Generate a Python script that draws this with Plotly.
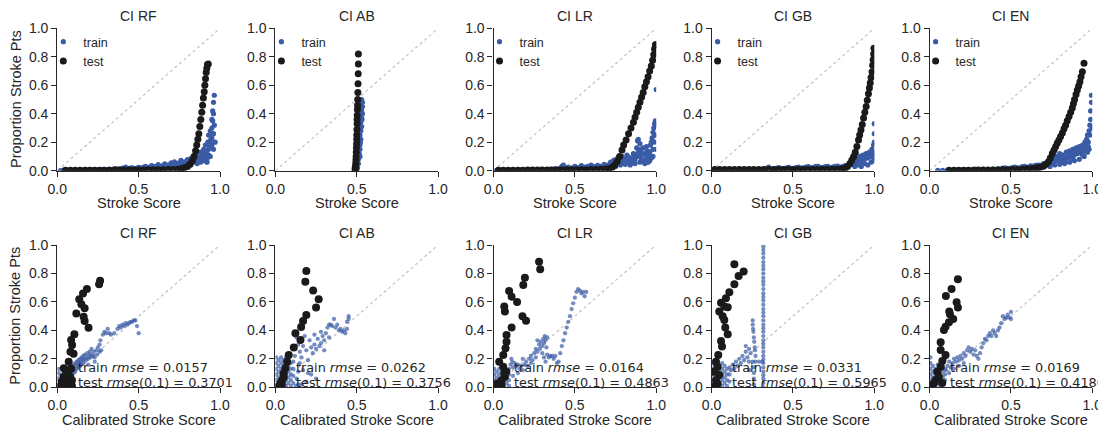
import plotly.graph_objects as go

W, H = 1106, 430

MODELS = ["RF", "AB", "LR", "GB", "EN"]
TRAIN_RMSE = ["0.0157", "0.0262", "0.0164", "0.0331", "0.0169"]
TEST_RMSE = ["0.3701", "0.3756", "0.4863", "0.5965", "0.4180"]
X_TICKS = [0.0, 0.5, 1.0]
Y_TICKS = [0.0, 0.2, 0.4, 0.6, 0.8, 1.0]

# ---------------- top row: raw score ----------------
RF_TOP_TRAIN = [
    (0.02, 0.000), (0.04, 0.002), (0.06, 0.003), (0.08, 0.002), (0.10, 0.004), (0.12, 0.003),
    (0.14, 0.005), (0.16, 0.004), (0.18, 0.006), (0.20, 0.005), (0.22, 0.007), (0.24, 0.006),
    (0.26, 0.008), (0.28, 0.010), (0.30, 0.007), (0.32, 0.012), (0.34, 0.009), (0.36, 0.014),
    (0.38, 0.011), (0.40, 0.018), (0.42, 0.026), (0.44, 0.016), (0.46, 0.020), (0.48, 0.014),
    (0.50, 0.024), (0.52, 0.018), (0.54, 0.030), (0.56, 0.022), (0.58, 0.036), (0.60, 0.028),
    (0.62, 0.042), (0.64, 0.032), (0.66, 0.048), (0.68, 0.040), (0.70, 0.055), (0.72, 0.062),
    (0.74, 0.050), (0.76, 0.072), (0.78, 0.060), (0.80, 0.078), (0.81, 0.066), (0.82, 0.085),
    (0.83, 0.072), (0.84, 0.095), (0.85, 0.080), (0.86, 0.110), (0.87, 0.090), (0.88, 0.130),
    (0.89, 0.100), (0.90, 0.150), (0.905, 0.120), (0.91, 0.180), (0.92, 0.140), (0.925, 0.200),
    (0.93, 0.250), (0.935, 0.170), (0.94, 0.280), (0.945, 0.220), (0.95, 0.300), (0.95, 0.360),
    (0.955, 0.420), (0.96, 0.480), (0.965, 0.530), (0.96, 0.260), (0.965, 0.320),
    (0.42, 0.008), (0.46, 0.010), (0.50, 0.012), (0.54, 0.014), (0.58, 0.016), (0.62, 0.018),
    (0.66, 0.020), (0.70, 0.025), (0.74, 0.030), (0.78, 0.035), (0.82, 0.040), (0.86, 0.050),
    (0.88, 0.060), (0.90, 0.070), (0.92, 0.080), (0.94, 0.100), (0.96, 0.150), (0.97, 0.200),
    (0.60, 0.010), (0.64, 0.015), (0.68, 0.022), (0.72, 0.035), (0.76, 0.045), (0.80, 0.050),
    (0.84, 0.060), (0.87, 0.065), (0.89, 0.080), (0.91, 0.090), (0.93, 0.110), (0.95, 0.180),
    (0.92, 0.060), (0.41, 0.015), (0.43, 0.012), (0.45, 0.018), (0.47, 0.016), (0.49, 0.018),
    (0.51, 0.020), (0.53, 0.022), (0.55, 0.025), (0.57, 0.026), (0.59, 0.025), (0.61, 0.030),
    (0.63, 0.028), (0.65, 0.034), (0.67, 0.036), (0.69, 0.040), (0.71, 0.045), (0.73, 0.048),
    (0.75, 0.055), (0.77, 0.058), (0.79, 0.062), (0.81, 0.058), (0.83, 0.060), (0.85, 0.065),
    (0.87, 0.075), (0.89, 0.120), (0.91, 0.140), (0.93, 0.150), (0.94, 0.210), (0.95, 0.230),
    (0.955, 0.350), (0.96, 0.400),
]
RF_TOP_TEST = [
    (0.05, 0.004), (0.08, 0.004), (0.11, 0.004), (0.14, 0.004), (0.17, 0.004), (0.20, 0.004),
    (0.23, 0.004), (0.26, 0.004), (0.29, 0.004), (0.32, 0.004), (0.35, 0.005), (0.38, 0.005),
    (0.41, 0.005), (0.44, 0.005), (0.47, 0.005), (0.50, 0.005), (0.53, 0.005), (0.56, 0.006),
    (0.59, 0.006), (0.62, 0.006), (0.65, 0.007), (0.68, 0.008), (0.71, 0.009), (0.74, 0.011),
    (0.76, 0.014), (0.78, 0.020), (0.80, 0.030), (0.815, 0.045), (0.83, 0.070), (0.84, 0.100),
    (0.85, 0.140), (0.857, 0.180), (0.864, 0.220), (0.87, 0.260), (0.876, 0.310), (0.882, 0.360),
    (0.888, 0.410), (0.893, 0.460), (0.898, 0.510), (0.903, 0.555), (0.907, 0.600), (0.911, 0.645),
    (0.915, 0.690), (0.919, 0.720), (0.923, 0.745), (0.928, 0.750),
]

AB_TOP_TRAIN = [
    (0.500, 0.000), (0.505, 0.020), (0.510, 0.050), (0.510, 0.080), (0.515, 0.120), (0.520, 0.150),
    (0.520, 0.180), (0.525, 0.220), (0.520, 0.250), (0.525, 0.280), (0.530, 0.310), (0.525, 0.340),
    (0.530, 0.370), (0.535, 0.400), (0.530, 0.420), (0.535, 0.450), (0.535, 0.480), (0.530, 0.500),
    (0.520, 0.100), (0.515, 0.300), (0.528, 0.440), (0.522, 0.200), (0.532, 0.360),
]
AB_TOP_TEST = [
    (0.490, 0.000), (0.490, 0.015), (0.492, 0.030), (0.494, 0.050), (0.495, 0.075), (0.496, 0.100),
    (0.497, 0.130), (0.498, 0.160), (0.499, 0.190), (0.500, 0.220), (0.500, 0.250), (0.501, 0.290),
    (0.502, 0.330), (0.502, 0.360), (0.503, 0.390), (0.504, 0.430), (0.505, 0.460), (0.506, 0.500),
    (0.507, 0.550), (0.508, 0.610), (0.509, 0.680), (0.510, 0.750), (0.510, 0.820),
]

LR_TOP_TRAIN = [
    (0.02, 0.002), (0.05, 0.004), (0.08, 0.003), (0.11, 0.005), (0.14, 0.004), (0.17, 0.006),
    (0.20, 0.005), (0.23, 0.008), (0.26, 0.006), (0.29, 0.010), (0.32, 0.008), (0.35, 0.012),
    (0.38, 0.014), (0.40, 0.010), (0.42, 0.030), (0.43, 0.040), (0.44, 0.020), (0.46, 0.025),
    (0.48, 0.018), (0.50, 0.030), (0.52, 0.022), (0.54, 0.035), (0.56, 0.025), (0.58, 0.030),
    (0.60, 0.040), (0.62, 0.028), (0.64, 0.038), (0.66, 0.030), (0.68, 0.045), (0.70, 0.040),
    (0.72, 0.060), (0.74, 0.075), (0.76, 0.085), (0.77, 0.095), (0.78, 0.070), (0.79, 0.100),
    (0.80, 0.060), (0.81, 0.080), (0.82, 0.110), (0.83, 0.095), (0.84, 0.070), (0.85, 0.090),
    (0.86, 0.120), (0.87, 0.080), (0.88, 0.160), (0.885, 0.210), (0.89, 0.220), (0.90, 0.190),
    (0.905, 0.150), (0.91, 0.120), (0.92, 0.160), (0.93, 0.110), (0.94, 0.170), (0.945, 0.140),
    (0.95, 0.100), (0.96, 0.130), (0.965, 0.180), (0.97, 0.200), (0.975, 0.230), (0.98, 0.270),
    (0.985, 0.300), (0.99, 0.330), (0.995, 0.350), (1.0, 0.320), (1.0, 0.570),
    (0.72, 0.020), (0.75, 0.030), (0.78, 0.040), (0.81, 0.045), (0.84, 0.040), (0.87, 0.050),
    (0.90, 0.060), (0.92, 0.070), (0.94, 0.080), (0.96, 0.070), (0.98, 0.100), (1.0, 0.150),
    (0.88, 0.100), (0.91, 0.080), (0.95, 0.060), (0.99, 0.200), (0.97, 0.090), (0.93, 0.050),
    (0.41, 0.018), (0.45, 0.012), (0.49, 0.015), (0.53, 0.016), (0.57, 0.018), (0.61, 0.020),
    (0.65, 0.022), (0.69, 0.025), (0.71, 0.030), (0.73, 0.045), (0.75, 0.055), (0.77, 0.050),
    (0.79, 0.060), (0.81, 0.065), (0.83, 0.060), (0.85, 0.055), (0.86, 0.070), (0.87, 0.110),
    (0.89, 0.130), (0.90, 0.100), (0.92, 0.120), (0.94, 0.120), (0.96, 0.100), (0.98, 0.150),
    (0.99, 0.250), (1.0, 0.250),
]
LR_TOP_TEST = [
    (0.03, 0.004), (0.06, 0.004), (0.09, 0.004), (0.12, 0.004), (0.15, 0.004), (0.18, 0.004),
    (0.21, 0.005), (0.24, 0.005), (0.27, 0.005), (0.30, 0.005), (0.33, 0.005), (0.36, 0.005),
    (0.39, 0.005), (0.42, 0.006), (0.45, 0.006), (0.48, 0.006), (0.51, 0.006), (0.54, 0.007),
    (0.57, 0.007), (0.60, 0.008), (0.63, 0.008), (0.66, 0.010), (0.69, 0.012), (0.71, 0.016),
    (0.73, 0.025), (0.745, 0.040), (0.76, 0.065), (0.775, 0.100), (0.79, 0.145), (0.80, 0.180),
    (0.815, 0.215), (0.83, 0.260), (0.845, 0.300), (0.86, 0.340), (0.87, 0.375), (0.88, 0.410),
    (0.89, 0.445), (0.90, 0.480), (0.91, 0.515), (0.92, 0.550), (0.93, 0.590), (0.94, 0.625),
    (0.95, 0.660), (0.96, 0.700), (0.97, 0.735), (0.978, 0.775), (0.985, 0.815), (0.99, 0.855),
    (0.995, 0.885), (1.0, 0.885),
]

GB_TOP_TRAIN = [
    (0.02, 0.003), (0.05, 0.005), (0.08, 0.004), (0.11, 0.006), (0.14, 0.005), (0.17, 0.008),
    (0.20, 0.006), (0.23, 0.010), (0.26, 0.008), (0.29, 0.012), (0.32, 0.009), (0.35, 0.025),
    (0.37, 0.012), (0.40, 0.018), (0.43, 0.012), (0.46, 0.020), (0.49, 0.014), (0.52, 0.022),
    (0.55, 0.018), (0.58, 0.026), (0.61, 0.020), (0.64, 0.030), (0.67, 0.022), (0.70, 0.028),
    (0.73, 0.020), (0.76, 0.030), (0.79, 0.025), (0.82, 0.035), (0.85, 0.040), (0.87, 0.060),
    (0.88, 0.090), (0.89, 0.050), (0.90, 0.070), (0.91, 0.100), (0.92, 0.060), (0.93, 0.110),
    (0.94, 0.080), (0.95, 0.120), (0.96, 0.090), (0.97, 0.130), (0.98, 0.100), (0.985, 0.150),
    (0.99, 0.110), (0.995, 0.180), (1.0, 0.120), (1.0, 0.200), (1.0, 0.260), (1.0, 0.330),
    (0.88, 0.030), (0.90, 0.040), (0.92, 0.030), (0.94, 0.050), (0.96, 0.040), (0.98, 0.060),
    (1.0, 0.070), (0.995, 0.090), (0.335, 0.015), (0.385, 0.012), (0.415, 0.022), (0.445, 0.015),
    (0.475, 0.024), (0.505, 0.016), (0.535, 0.026), (0.565, 0.020), (0.595, 0.028), (0.625, 0.022),
    (0.655, 0.030), (0.685, 0.024), (0.715, 0.030), (0.745, 0.026), (0.775, 0.032), (0.805, 0.028),
    (0.835, 0.030), (0.86, 0.045), (0.895, 0.085), (0.915, 0.075), (0.935, 0.090), (0.955, 0.100),
    (0.975, 0.110), (0.99, 0.140),
]
GB_TOP_TEST = [
    (0.02, 0.008), (0.05, 0.008), (0.08, 0.008), (0.11, 0.008), (0.14, 0.008), (0.17, 0.008),
    (0.20, 0.008), (0.23, 0.008), (0.26, 0.008), (0.29, 0.008), (0.32, 0.008), (0.35, 0.008),
    (0.38, 0.008), (0.41, 0.008), (0.44, 0.008), (0.47, 0.008), (0.50, 0.008), (0.53, 0.008),
    (0.56, 0.008), (0.59, 0.008), (0.62, 0.008), (0.65, 0.009), (0.68, 0.009), (0.71, 0.010),
    (0.74, 0.010), (0.77, 0.011), (0.80, 0.013), (0.82, 0.018), (0.835, 0.030), (0.85, 0.050),
    (0.862, 0.075), (0.873, 0.100), (0.883, 0.130), (0.893, 0.170), (0.903, 0.215), (0.91, 0.250),
    (0.918, 0.285), (0.926, 0.325), (0.934, 0.370), (0.942, 0.410), (0.95, 0.450), (0.957, 0.495),
    (0.964, 0.540), (0.97, 0.580), (0.975, 0.615), (0.98, 0.655), (0.986, 0.695), (0.99, 0.740),
    (0.993, 0.780), (0.996, 0.820), (0.998, 0.860),
]

EN_TOP_TRAIN = [
    (0.05, 0.002), (0.08, 0.003), (0.11, 0.004), (0.14, 0.003), (0.17, 0.005), (0.20, 0.004),
    (0.23, 0.006), (0.26, 0.005), (0.28, 0.012), (0.30, 0.007), (0.33, 0.010), (0.36, 0.008),
    (0.39, 0.012), (0.42, 0.010), (0.45, 0.018), (0.48, 0.014), (0.51, 0.022), (0.54, 0.018),
    (0.57, 0.028), (0.60, 0.022), (0.62, 0.034), (0.64, 0.026), (0.66, 0.040), (0.68, 0.030),
    (0.70, 0.050), (0.72, 0.040), (0.74, 0.080), (0.75, 0.110), (0.76, 0.060), (0.78, 0.100),
    (0.79, 0.070), (0.80, 0.120), (0.81, 0.080), (0.82, 0.110), (0.83, 0.070), (0.84, 0.130),
    (0.85, 0.090), (0.86, 0.140), (0.87, 0.100), (0.88, 0.150), (0.89, 0.110), (0.90, 0.160),
    (0.91, 0.120), (0.92, 0.170), (0.93, 0.130), (0.94, 0.180), (0.95, 0.150), (0.955, 0.200),
    (0.96, 0.170), (0.965, 0.220), (0.97, 0.250), (0.975, 0.200), (0.98, 0.280), (0.985, 0.320),
    (0.99, 0.360), (0.99, 0.420), (0.995, 0.480), (0.995, 0.530), (1.0, 0.300),
    (0.74, 0.030), (0.77, 0.040), (0.80, 0.045), (0.83, 0.050), (0.86, 0.060), (0.89, 0.070),
    (0.92, 0.080), (0.95, 0.100), (0.98, 0.150), (0.76, 0.050), (0.82, 0.060), (0.88, 0.085),
    (0.94, 0.110), (0.97, 0.130), (0.435, 0.012), (0.465, 0.020), (0.495, 0.016), (0.525, 0.025),
    (0.555, 0.020), (0.585, 0.030), (0.615, 0.026), (0.645, 0.036), (0.675, 0.040), (0.705, 0.035),
    (0.725, 0.060), (0.745, 0.055), (0.765, 0.085), (0.775, 0.075), (0.795, 0.090), (0.815, 0.100),
    (0.835, 0.090), (0.855, 0.110), (0.875, 0.120), (0.895, 0.130), (0.915, 0.140), (0.935, 0.150),
    (0.945, 0.140), (0.96, 0.200), (0.975, 0.170), (0.985, 0.250),
]
EN_TOP_TEST = [
    (0.12, 0.004), (0.15, 0.004), (0.18, 0.004), (0.21, 0.004), (0.24, 0.004), (0.27, 0.004),
    (0.30, 0.005), (0.33, 0.005), (0.36, 0.005), (0.39, 0.005), (0.42, 0.006), (0.45, 0.006),
    (0.48, 0.007), (0.51, 0.008), (0.54, 0.009), (0.57, 0.011), (0.60, 0.013), (0.63, 0.016),
    (0.66, 0.020), (0.68, 0.025), (0.70, 0.032), (0.715, 0.045), (0.73, 0.062), (0.742, 0.090),
    (0.754, 0.120), (0.765, 0.145), (0.775, 0.170), (0.785, 0.195), (0.795, 0.215), (0.805, 0.240),
    (0.816, 0.265), (0.826, 0.295), (0.836, 0.320), (0.846, 0.350), (0.857, 0.380), (0.867, 0.410),
    (0.877, 0.440), (0.884, 0.470), (0.891, 0.500), (0.900, 0.535), (0.908, 0.567), (0.916, 0.595),
    (0.924, 0.625), (0.931, 0.660), (0.939, 0.695), (0.949, 0.754),
]

# ---------------- bottom row: calibrated score ----------------
RF_BOT_TRAIN = [
    (0.005, 0.02), (0.005, 0.06), (0.01, 0.10), (0.01, 0.13), (0.015, 0.04), (0.02, 0.08),
    (0.02, 0.01), (0.025, 0.05), (0.03, 0.02), (0.035, 0.09), (0.04, 0.03), (0.04, 0.06),
    (0.045, 0.12), (0.05, 0.02), (0.05, 0.08), (0.055, 0.05), (0.06, 0.10), (0.06, 0.03),
    (0.065, 0.07), (0.07, 0.12), (0.07, 0.05), (0.075, 0.09), (0.08, 0.14), (0.08, 0.07),
    (0.085, 0.11), (0.09, 0.09), (0.09, 0.15), (0.095, 0.12), (0.10, 0.10), (0.10, 0.16),
    (0.105, 0.13), (0.11, 0.17), (0.11, 0.11), (0.115, 0.15), (0.12, 0.18), (0.12, 0.13),
    (0.125, 0.16), (0.13, 0.19), (0.13, 0.14), (0.135, 0.17), (0.14, 0.20), (0.14, 0.15),
    (0.145, 0.18), (0.15, 0.21), (0.15, 0.16), (0.155, 0.19), (0.16, 0.22), (0.16, 0.17),
    (0.165, 0.20), (0.17, 0.23), (0.175, 0.19), (0.18, 0.21), (0.185, 0.24), (0.19, 0.20),
    (0.195, 0.22), (0.20, 0.25), (0.205, 0.21), (0.21, 0.23), (0.22, 0.22), (0.225, 0.25),
    (0.23, 0.21), (0.24, 0.26), (0.245, 0.23), (0.25, 0.28), (0.26, 0.30), (0.265, 0.33),
    (0.27, 0.26), (0.28, 0.37), (0.29, 0.39), (0.30, 0.38), (0.31, 0.41), (0.32, 0.38),
    (0.33, 0.37), (0.35, 0.38), (0.37, 0.41), (0.38, 0.43), (0.39, 0.42), (0.40, 0.44),
    (0.41, 0.43), (0.42, 0.45), (0.43, 0.44), (0.44, 0.45), (0.45, 0.46), (0.46, 0.46),
    (0.47, 0.47), (0.48, 0.47), (0.49, 0.43), (0.50, 0.38), (0.23, 0.18), (0.21, 0.27),
    (0.19, 0.16), (0.26, 0.25),
]
RF_BOT_TEST = [
    (0.263, 0.749), (0.257, 0.724), (0.182, 0.690), (0.158, 0.660), (0.135, 0.618), (0.148, 0.583),
    (0.168, 0.555), (0.117, 0.518), (0.162, 0.496), (0.168, 0.466), (0.192, 0.419), (0.105, 0.372),
    (0.085, 0.333), (0.091, 0.297), (0.081, 0.250), (0.100, 0.235), (0.070, 0.180), (0.085, 0.130),
    (0.040, 0.133), (0.069, 0.120), (0.055, 0.100), (0.040, 0.075), (0.080, 0.070), (0.028, 0.040),
    (0.060, 0.030), (0.020, 0.010), (0.090, 0.050), (0.050, 0.005), (0.070, 0.020), (0.090, 0.010),
]

AB_BOT_TRAIN = [
    (0.005, 0.01), (0.005, 0.05), (0.005, 0.09), (0.005, 0.13), (0.005, 0.17), (0.005, 0.21),
    (0.02, 0.03), (0.02, 0.07), (0.02, 0.11), (0.02, 0.15), (0.02, 0.19), (0.035, 0.01),
    (0.035, 0.05), (0.035, 0.09), (0.035, 0.13), (0.035, 0.17), (0.035, 0.21), (0.05, 0.03),
    (0.05, 0.07), (0.05, 0.11), (0.05, 0.15), (0.05, 0.19), (0.065, 0.01), (0.065, 0.05),
    (0.065, 0.09), (0.065, 0.13), (0.065, 0.17), (0.065, 0.21), (0.08, 0.03), (0.08, 0.07),
    (0.08, 0.11), (0.08, 0.15), (0.08, 0.19), (0.095, 0.01), (0.095, 0.05), (0.095, 0.09),
    (0.095, 0.13), (0.095, 0.17), (0.11, 0.03), (0.11, 0.08), (0.11, 0.13), (0.11, 0.18),
    (0.12, 0.22), (0.125, 0.01), (0.13, 0.06), (0.13, 0.35), (0.14, 0.11), (0.14, 0.30),
    (0.15, 0.17), (0.15, 0.25), (0.16, 0.02), (0.16, 0.21), (0.17, 0.29), (0.17, 0.12),
    (0.18, 0.36), (0.19, 0.26), (0.19, 0.04), (0.20, 0.19), (0.21, 0.33), (0.22, 0.28),
    (0.22, 0.09), (0.23, 0.24), (0.24, 0.30), (0.25, 0.27), (0.25, 0.06), (0.26, 0.34),
    (0.27, 0.29), (0.28, 0.31), (0.29, 0.36), (0.30, 0.26), (0.30, 0.33), (0.31, 0.38),
    (0.32, 0.42), (0.33, 0.44), (0.34, 0.44), (0.35, 0.43), (0.36, 0.48), (0.37, 0.42),
    (0.38, 0.44), (0.39, 0.40), (0.40, 0.41), (0.41, 0.39), (0.42, 0.40), (0.43, 0.38),
    (0.44, 0.41), (0.44, 0.46), (0.45, 0.50), (0.45, 0.48), (0.24, 0.37), (0.28, 0.39),
    (0.12, 0.27), (0.33, 0.35), (0.20, 0.10), (0.14, 0.02),
]
AB_BOT_TEST = [
    (0.190, 0.817), (0.184, 0.742), (0.232, 0.680), (0.266, 0.618), (0.250, 0.560), (0.190, 0.508),
    (0.170, 0.466), (0.158, 0.424), (0.123, 0.380), (0.154, 0.333), (0.113, 0.280), (0.082, 0.227),
    (0.072, 0.180), (0.061, 0.133), (0.051, 0.098), (0.051, 0.070), (0.041, 0.050), (0.031, 0.028),
    (0.020, 0.010), (0.040, 0.020),
]

LR_BOT_TRAIN = [
    (0.005, 0.01), (0.005, 0.05), (0.005, 0.09), (0.005, 0.13), (0.02, 0.03), (0.02, 0.07),
    (0.02, 0.11), (0.035, 0.01), (0.035, 0.05), (0.035, 0.09), (0.035, 0.13), (0.05, 0.03),
    (0.05, 0.07), (0.05, 0.11), (0.065, 0.01), (0.065, 0.05), (0.065, 0.09), (0.065, 0.13),
    (0.08, 0.03), (0.08, 0.07), (0.08, 0.11), (0.095, 0.01), (0.095, 0.05), (0.095, 0.09),
    (0.095, 0.13), (0.105, 0.16), (0.11, 0.20), (0.115, 0.18), (0.12, 0.14), (0.13, 0.17),
    (0.14, 0.15), (0.15, 0.16), (0.16, 0.13), (0.17, 0.15), (0.18, 0.12), (0.19, 0.16),
    (0.20, 0.18), (0.21, 0.15), (0.22, 0.20), (0.23, 0.22), (0.24, 0.19), (0.25, 0.24),
    (0.26, 0.27), (0.27, 0.25), (0.28, 0.30), (0.285, 0.27), (0.29, 0.32), (0.30, 0.29),
    (0.305, 0.34), (0.31, 0.31), (0.315, 0.36), (0.32, 0.33), (0.325, 0.28), (0.33, 0.35),
    (0.30, 0.24), (0.31, 0.21), (0.32, 0.18), (0.33, 0.23), (0.34, 0.21), (0.35, 0.22),
    (0.36, 0.22), (0.37, 0.20), (0.38, 0.22), (0.39, 0.17), (0.40, 0.18), (0.41, 0.24),
    (0.42, 0.29), (0.43, 0.33), (0.44, 0.38), (0.45, 0.42), (0.46, 0.46), (0.47, 0.50),
    (0.48, 0.55), (0.49, 0.59), (0.50, 0.63), (0.51, 0.67), (0.52, 0.69), (0.53, 0.68),
    (0.54, 0.66), (0.55, 0.67), (0.56, 0.64), (0.57, 0.67), (0.27, 0.33), (0.26, 0.21),
    (0.23, 0.17), (0.15, 0.10), (0.12, 0.08), (0.18, 0.20),
]
LR_BOT_TEST = [
    (0.280, 0.883), (0.287, 0.829), (0.193, 0.770), (0.183, 0.719), (0.096, 0.677), (0.111, 0.637),
    (0.145, 0.600), (0.066, 0.567), (0.070, 0.532), (0.178, 0.500), (0.200, 0.468), (0.111, 0.420),
    (0.080, 0.368), (0.080, 0.320), (0.074, 0.274), (0.060, 0.227), (0.035, 0.180), (0.060, 0.145),
    (0.066, 0.098), (0.070, 0.075), (0.050, 0.050), (0.025, 0.028), (0.049, 0.016), (0.008, 0.005),
    (0.079, 0.110), (0.030, 0.010),
]

GB_BOT_TRAIN = [
    (0.005, 0.01), (0.005, 0.05), (0.005, 0.09), (0.005, 0.13), (0.005, 0.17), (0.02, 0.03),
    (0.02, 0.07), (0.02, 0.11), (0.02, 0.15), (0.02, 0.19), (0.035, 0.01), (0.035, 0.05),
    (0.035, 0.09), (0.035, 0.13), (0.035, 0.17), (0.05, 0.03), (0.05, 0.07), (0.05, 0.11),
    (0.05, 0.15), (0.065, 0.01), (0.065, 0.05), (0.065, 0.09), (0.065, 0.13), (0.065, 0.17),
    (0.08, 0.03), (0.08, 0.07), (0.08, 0.11), (0.08, 0.15), (0.095, 0.01), (0.095, 0.05),
    (0.095, 0.09), (0.095, 0.13), (0.11, 0.04), (0.11, 0.09), (0.11, 0.14), (0.12, 0.12),
    (0.13, 0.16), (0.14, 0.13), (0.15, 0.18), (0.16, 0.15), (0.17, 0.20), (0.18, 0.17),
    (0.19, 0.22), (0.20, 0.19), (0.21, 0.25), (0.21, 0.29), (0.22, 0.21), (0.23, 0.18),
    (0.23, 0.27), (0.24, 0.24), (0.253, 0.47), (0.253, 0.44), (0.255, 0.41), (0.257, 0.39),
    (0.26, 0.35), (0.262, 0.32), (0.265, 0.28), (0.267, 0.26), (0.27, 0.22), (0.253, 0.18),
    (0.268, 0.18), (0.29, 0.18), (0.31, 0.18), (0.26, 0.14), (0.26, 0.10), (0.26, 0.06),
    (0.26, 0.02), (0.232, 0.12), (0.318, 0.00), (0.318, 0.03), (0.318, 0.06), (0.318, 0.085),
    (0.318, 0.11), (0.318, 0.14), (0.318, 0.17), (0.318, 0.195), (0.318, 0.22), (0.318, 0.25),
    (0.318, 0.28), (0.318, 0.305), (0.318, 0.33), (0.318, 0.36), (0.318, 0.39), (0.318, 0.415),
    (0.318, 0.44), (0.318, 0.47), (0.318, 0.50), (0.318, 0.525), (0.318, 0.55), (0.318, 0.58),
    (0.318, 0.61), (0.318, 0.635), (0.318, 0.66), (0.318, 0.69), (0.318, 0.72), (0.318, 0.745),
    (0.318, 0.77), (0.318, 0.80), (0.318, 0.83), (0.318, 0.855), (0.318, 0.88), (0.318, 0.91),
    (0.318, 0.94), (0.318, 0.965), (0.318, 0.99),
]
GB_BOT_TEST = [
    (0.140, 0.864), (0.197, 0.813), (0.166, 0.782), (0.140, 0.724), (0.109, 0.668), (0.088, 0.625),
    (0.058, 0.595), (0.078, 0.567), (0.047, 0.532), (0.099, 0.562), (0.068, 0.500), (0.078, 0.473),
    (0.084, 0.420), (0.099, 0.372), (0.058, 0.326), (0.064, 0.286), (0.041, 0.227), (0.027, 0.180),
    (0.037, 0.145), (0.016, 0.110), (0.047, 0.087), (0.027, 0.050), (0.037, 0.023), (0.016, 0.005),
]

EN_BOT_TRAIN = [
    (0.005, 0.01), (0.005, 0.05), (0.005, 0.09), (0.005, 0.13), (0.005, 0.17), (0.005, 0.21),
    (0.02, 0.03), (0.02, 0.07), (0.02, 0.11), (0.02, 0.15), (0.035, 0.01), (0.035, 0.05),
    (0.035, 0.09), (0.035, 0.13), (0.05, 0.03), (0.05, 0.07), (0.05, 0.11), (0.05, 0.16),
    (0.065, 0.01), (0.065, 0.05), (0.065, 0.09), (0.065, 0.13), (0.08, 0.03), (0.08, 0.07),
    (0.08, 0.11), (0.08, 0.15), (0.095, 0.05), (0.095, 0.09), (0.095, 0.13), (0.095, 0.20),
    (0.10, 0.12), (0.11, 0.15), (0.12, 0.18), (0.13, 0.14), (0.14, 0.17), (0.15, 0.20),
    (0.16, 0.18), (0.17, 0.21), (0.18, 0.19), (0.19, 0.22), (0.20, 0.20), (0.21, 0.24),
    (0.22, 0.22), (0.23, 0.26), (0.24, 0.28), (0.25, 0.25), (0.26, 0.27), (0.27, 0.23),
    (0.28, 0.26), (0.29, 0.22), (0.30, 0.20), (0.31, 0.24), (0.32, 0.28), (0.33, 0.31),
    (0.34, 0.34), (0.35, 0.33), (0.36, 0.36), (0.37, 0.38), (0.38, 0.36), (0.39, 0.40),
    (0.40, 0.38), (0.41, 0.36), (0.42, 0.40), (0.43, 0.42), (0.44, 0.45), (0.45, 0.50),
    (0.46, 0.48), (0.47, 0.49), (0.48, 0.51), (0.49, 0.49), (0.50, 0.53), (0.50, 0.48),
    (0.12, 0.10), (0.15, 0.13), (0.18, 0.15), (0.21, 0.17),
]
EN_BOT_TEST = [
    (0.174, 0.759), (0.135, 0.691), (0.100, 0.642), (0.166, 0.597), (0.174, 0.560), (0.121, 0.532),
    (0.125, 0.513), (0.145, 0.480), (0.119, 0.457), (0.098, 0.426), (0.088, 0.403), (0.068, 0.316),
    (0.068, 0.262), (0.098, 0.227), (0.078, 0.185), (0.068, 0.145), (0.047, 0.110), (0.057, 0.075),
    (0.037, 0.052), (0.027, 0.028), (0.016, 0.012), (0.078, 0.030),
]

TOP_TRAIN = [RF_TOP_TRAIN, AB_TOP_TRAIN, LR_TOP_TRAIN, GB_TOP_TRAIN, EN_TOP_TRAIN]
TOP_TEST = [RF_TOP_TEST, AB_TOP_TEST, LR_TOP_TEST, GB_TOP_TEST, EN_TOP_TEST]
BOT_TRAIN = [RF_BOT_TRAIN, AB_BOT_TRAIN, LR_BOT_TRAIN, GB_BOT_TRAIN, EN_BOT_TRAIN]
BOT_TEST = [RF_BOT_TEST, AB_BOT_TEST, LR_BOT_TEST, GB_BOT_TEST, EN_BOT_TEST]

# ---------------- styling ----------------
BLUE = "#3a5ba5"
BLACK = "#1a1a1a"
TXT = "#262626"
FONT = "Liberation Sans, Arial, sans-serif"

# the page body adds an 8px margin; positions below are window pixels
OFF = 8.0
PANEL_X0 = [57.3, 275.4, 493.5, 711.6, 929.6]
PANEL_W = 162.7
TOP_Y = (28.3, 170.7)
BOT_Y = (245.0, 387.3)


def px(v):
    return (v - OFF) / W


def py(v):
    return 1 - (v - OFF) / H


def xs(pts):
    return [p[0] for p in pts]


def ys(pts):
    return [p[1] for p in pts]


fig = go.Figure()
layout = dict(
    template="none",
    width=W, height=H, autosize=False, margin=dict(l=0, r=0, t=0, b=0, pad=0),
    paper_bgcolor="white", plot_bgcolor="white",
    font=dict(family=FONT, size=14, color=TXT),
    shapes=[], annotations=[],
)

for i, name in enumerate(MODELS):
    for row in (0, 1):
        n = i + 1 + 5 * row
        xa, ya = f"x{n}", f"y{n}"
        y0p, y1p = TOP_Y if row == 0 else BOT_Y
        xd = [px(PANEL_X0[i]), px(PANEL_X0[i] + PANEL_W)]
        yd = [py(y1p), py(y0p)]
        axis_common = dict(
            range=[0, 1], autorange=False, automargin=False, showgrid=False, zeroline=False,
            showline=True, mirror=False,
            linecolor=TXT, linewidth=1.2, ticks="outside", ticklen=5, tickwidth=1.2,
            tickcolor=TXT, tickformat=".1f", tickfont=dict(family=FONT, size=14, color=TXT),
        )
        layout[f"xaxis{n}"] = dict(axis_common, domain=xd, anchor=ya, tickvals=X_TICKS)
        layout[f"yaxis{n}"] = dict(axis_common, domain=yd, anchor=xa, tickvals=Y_TICKS)

        layout["shapes"].append(dict(
            type="line", xref=xa, yref=ya, x0=0, y0=0, x1=1, y1=1, layer="below",
            line=dict(color="#bdbdbd", width=1.1, dash="dot"),
        ))

        train = TOP_TRAIN[i] if row == 0 else BOT_TRAIN[i]
        test = TOP_TEST[i] if row == 0 else BOT_TEST[i]
        leg = "legend" if i == 0 else f"legend{i + 1}"
        fig.add_trace(go.Scatter(
            x=xs(train), y=ys(train), mode="markers", name="train",
            xaxis=xa, yaxis=ya, showlegend=(row == 0), legend=leg,
            marker=dict(color=BLUE, size=5.2 if row == 0 else 4.3,
                        opacity=1.0 if row == 0 else 0.7, line=dict(width=0)),
        ))
        fig.add_trace(go.Scatter(
            x=xs(test), y=ys(test), mode="markers", name="test",
            xaxis=xa, yaxis=ya, showlegend=(row == 0), legend=leg,
            marker=dict(color=BLACK, size=7 if row == 0 else 8, line=dict(width=0)),
        ))

        cx = px(PANEL_X0[i] + PANEL_W / 2)
        layout["annotations"].append(dict(
            text=f"CI {name}", xref="paper", yref="paper", x=cx,
            y=py(16 if row == 0 else 232.5), xanchor="center", yanchor="middle",
            showarrow=False, font=dict(family=FONT, size=14, color=TXT),
        ))
        layout["annotations"].append(dict(
            text="Stroke Score" if row == 0 else "Calibrated Stroke Score",
            xref="paper", yref="paper", x=cx,
            y=py(203 if row == 0 else 420), xanchor="center", yanchor="middle",
            showarrow=False, font=dict(family=FONT, size=14.5, color=TXT),
        ))
        if i == 0:
            layout["annotations"].append(dict(
                text="Proportion Stroke Pts", xref="paper", yref="paper", x=px(15.5),
                y=py((y0p + y1p) / 2), xanchor="center", yanchor="middle",
                textangle=-90, showarrow=False, font=dict(family=FONT, size=14.5, color=TXT),
            ))
        if row == 0:
            layout[leg] = dict(
                x=px(PANEL_X0[i] - 14), y=py(27), xanchor="left", yanchor="top",
                bgcolor="rgba(0,0,0,0)", borderwidth=0, itemsizing="trace",
                tracegroupgap=0, font=dict(family=FONT, size=12.5, color=TXT),
            )
        else:
            layout["annotations"].append(dict(
                text=("<span style='font-size:12.8px'>"
                      f"train <i>rmse</i> = {TRAIN_RMSE[i]}<br>"
                      f"test <i>rmse</i>(0.1) = {TEST_RMSE[i]}</span>"),
                xref=xa, yref=ya, x=0.115, y=0.088, align="left",
                xanchor="left", yanchor="middle", showarrow=False,
                font=dict(family="DejaVu Sans", size=11.5, color=TXT),
            ))

fig.update_layout(**layout)
fig.write_html("out.html")
